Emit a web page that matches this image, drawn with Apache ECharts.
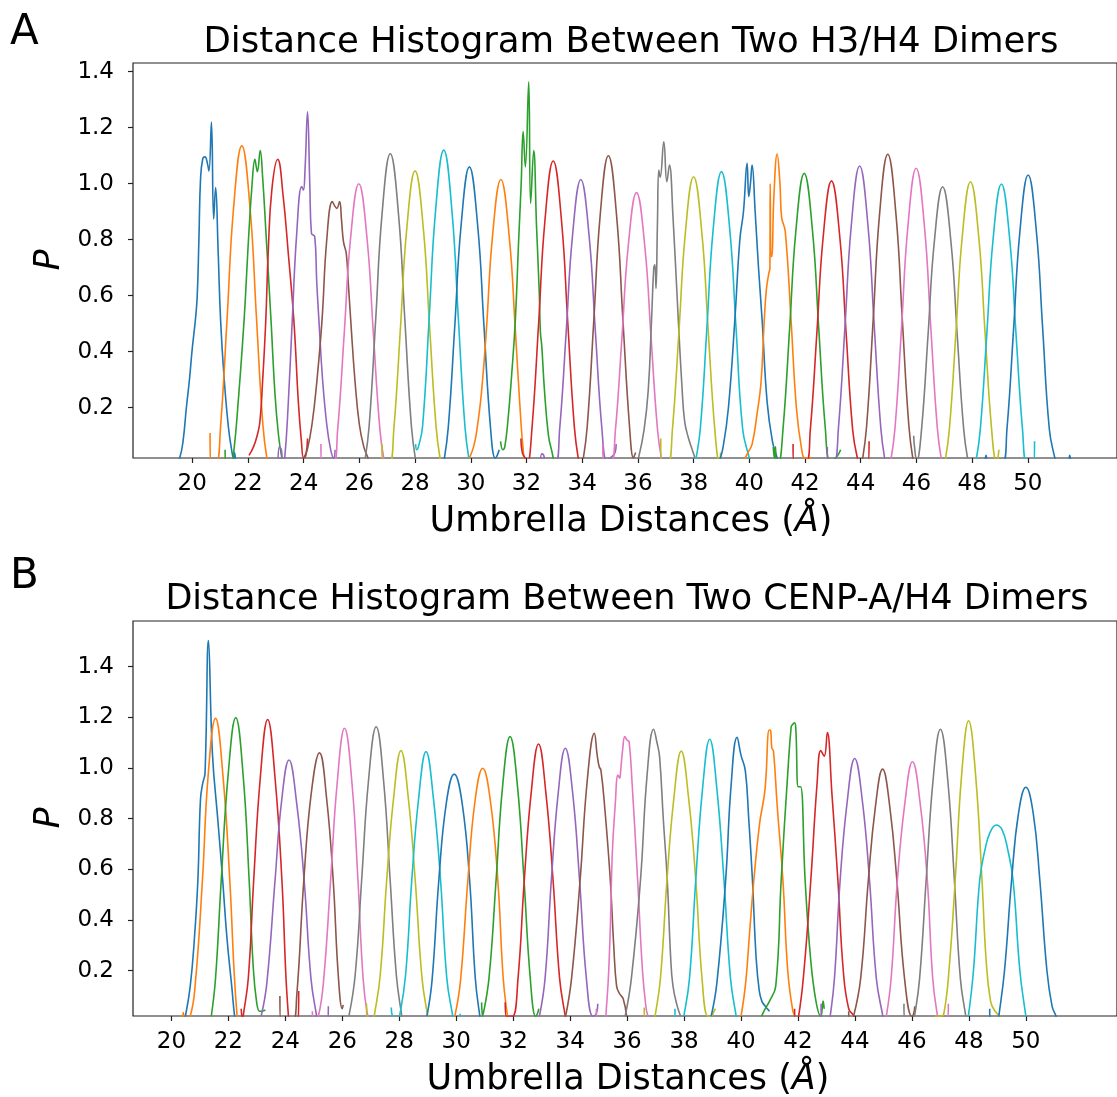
<!DOCTYPE html>
<html>
<head>
<meta charset="utf-8">
<script src="https://cdn.jsdelivr.net/npm/echarts@6/dist/echarts.min.js"></script>
<style>html,body{margin:0;padding:0;background:#fff}#chart{width:1117px;height:1097px}</style>
</head>
<body>
<div id="chart"></div>
<script>
// ---------- data ----------
const titleA = 'Distance Histogram Between Two H3/H4 Dimers';
const titleB = 'Distance Histogram Between Two CENP-A/H4 Dimers';
const xTicks = [20,22,24,26,28,30,32,34,36,38,40,42,44,46,48,50];
const yTicks = [0.2,0.4,0.6,0.8,1.0,1.2,1.4];
const palette = ['#1f77b4','#ff7f0e','#2ca02c','#d62728','#9467bd','#8c564b','#e377c2','#7f7f7f','#bcbd22','#17becf'];

// Panel A: one histogram curve per umbrella window, [distance, P]
const A01 = [[19.42,0],[19.55,0.02],[19.67,0.08],[19.79,0.2],[19.9,0.3],[20.0,0.41],[20.12,0.52],[20.18,0.6],[20.24,0.8],[20.3,1.02],[20.38,1.09],[20.46,1.096],[20.55,1.07],[20.6,1.046],[20.69,1.22],[20.77,0.874],[20.84,0.986],[20.93,0.76],[21.02,0.51],[21.15,0.3],[21.3,0.13],[21.43,0.04],[21.48,0.02],[21.52,0.04],[21.56,0]];
const A02 = [[20.64,0.11],[20.66,0],[20.85,0],[21.02,0.136],[21.26,0.533],[21.48,0.908],[21.78,1.135],[22.08,0.908],[22.3,0.533],[22.54,0.136],[22.71,0]];
const A03 = [[21.18,0.05],[21.22,0],[21.4,0],[21.5,0.05],[21.65,0.22],[21.86,0.51],[22.02,0.8],[22.15,1.0],[22.25,1.087],[22.3,1.06],[22.34,1.043],[22.44,1.118],[22.53,1.02],[22.65,0.82],[22.83,0.51],[22.97,0.25],[23.1,0.1],[23.22,0.02],[23.3,0]];
const A04 = [[22.04,0.03],[22.2,0.06],[22.33,0.1],[22.43,0.15],[22.53,0.3],[22.64,0.51],[22.73,0.76],[22.86,0.98],[23.07,1.087],[23.27,0.95],[23.45,0.75],[23.65,0.51],[23.81,0.22],[23.92,0.08],[24.0,0.02],[24.08,0.03],[24.14,0.09]];
const A05 = [[23.08,0],[23.13,0.06],[23.2,0.05],[23.25,0],[23.32,0.02],[23.44,0.2],[23.59,0.51],[23.75,0.82],[23.93,0.99],[23.99,0.977],[24.05,1.05],[24.14,1.257],[24.22,1.0],[24.28,0.823],[24.4,0.81],[24.47,0.65],[24.55,0.51],[24.68,0.3],[24.83,0.14],[24.97,0.05],[25.08,0.02],[25.13,0.05]];
const A06 = [[24.0,0.02],[24.13,0.05],[24.3,0.14],[24.48,0.3],[24.66,0.513],[24.83,0.8],[25.03,0.936],[25.12,0.92],[25.19,0.912],[25.29,0.936],[25.36,0.87],[25.43,0.793],[25.53,0.751],[25.6,0.65],[25.69,0.513],[25.84,0.3],[26.0,0.14],[26.16,0.06],[26.31,0.02],[26.36,0]];
const A07 = [[24.62,0.07],[24.66,0],[25.05,0],[25.22,0.12],[25.46,0.47],[25.68,0.8],[25.98,1.0],[26.28,0.8],[26.5,0.47],[26.74,0.12],[26.91,0]];
const A08 = [[26.18,0],[26.35,0.133],[26.59,0.52],[26.81,0.886],[27.11,1.107],[27.41,0.886],[27.63,0.52],[27.87,0.133],[28.04,0]];
const A09 = [[26.81,0.07],[26.84,0],[27.07,0],[27.24,0.126],[27.48,0.492],[27.7,0.837],[28.0,1.046],[28.3,0.837],[28.52,0.492],[28.76,0.126],[28.93,0]];
const A10 = [[28.02,0.07],[28.06,0.05],[28.12,0.06],[28.27,0.134],[28.51,0.526],[28.73,0.896],[29.03,1.12],[29.33,0.896],[29.55,0.526],[29.79,0.134],[29.96,0]];
const A11 = [[29.02,0],[29.19,0.127],[29.43,0.498],[29.65,0.848],[29.95,1.06],[30.25,0.848],[30.47,0.498],[30.71,0.127],[30.88,0.02],[30.95,0.03],[31.02,0.05]];
const A12 = [[29.95,0.02],[30.1,0.06],[30.21,0.114],[30.38,0.25],[30.56,0.477],[30.78,0.812],[31.08,1.015],[31.38,0.812],[31.6,0.477],[31.8,0.15],[31.9,0.03],[31.95,0]];
const A13 = [[31.07,0.08],[31.15,0.05],[31.22,0.06],[31.33,0.15],[31.47,0.32],[31.6,0.513],[31.72,0.8],[31.81,1.0],[31.88,1.186],[31.96,1.06],[32.08,1.364],[32.15,0.93],[32.26,1.118],[32.36,0.85],[32.46,0.608],[32.5,0.47],[32.55,0.42],[32.64,0.27],[32.79,0.1],[32.92,0.04],[33.0,0]];
const A14 = [[31.8,0.09],[31.85,0.04],[31.95,0.02],[32.03,0],[32.2,0.13],[32.44,0.508],[32.66,0.865],[32.96,1.081],[33.26,0.865],[33.48,0.508],[33.72,0.13],[33.89,0]];
const A15 = [[32.5,0],[32.55,0.035],[32.62,0.03],[32.7,0],[33.02,0],[33.19,0.122],[33.43,0.477],[33.65,0.812],[33.95,1.015],[34.25,0.812],[34.47,0.477],[34.71,0.122],[34.88,0.01],[35.0,0.02],[35.18,0.04],[35.22,0.07]];
const A16 = [[34.01,0],[34.18,0.132],[34.42,0.517],[34.64,0.88],[34.94,1.1],[35.24,0.88],[35.46,0.517],[35.7,0.132],[35.84,0.02],[35.88,0.03],[35.92,0.04]];
const A17 = [[34.74,0.07],[34.77,0],[35.02,0],[35.19,0.116],[35.43,0.455],[35.65,0.774],[35.95,0.968],[36.25,0.774],[36.47,0.455],[36.71,0.116],[36.88,0]];
const A18 = [[35.93,0],[36.02,0.02],[36.22,0.12],[36.37,0.26],[36.49,0.513],[36.57,0.7],[36.61,0.71],[36.65,0.626],[36.7,0.85],[36.75,1.049],[36.8,1.023],[36.93,1.15],[37.04,1.007],[37.13,1.067],[37.26,0.882],[37.45,0.513],[37.58,0.28],[37.68,0.15],[37.82,0.09],[37.95,0.05],[38.05,0.02]];
const A19 = [[36.82,0.09],[36.85,0],[37.07,0],[37.24,0.123],[37.48,0.482],[37.7,0.82],[38.0,1.025],[38.3,0.82],[38.52,0.482],[38.76,0.123],[38.93,0],[38.97,0.04]];
const A20 = [[38.0,0.02],[38.05,0],[38.07,0],[38.24,0.125],[38.48,0.49],[38.7,0.834],[39.0,1.043],[39.3,0.834],[39.52,0.49],[39.76,0.125],[40.0,0.02],[40.08,0]];
const A21 = [[38.9,0],[39.06,0.06],[39.25,0.2],[39.48,0.513],[39.66,0.8],[39.79,0.9],[39.92,1.073],[39.98,0.954],[40.04,1.0],[40.1,1.067],[40.21,0.9],[40.33,0.7],[40.46,0.513],[40.64,0.22],[40.83,0.08],[41.0,0.02],[41.05,0]];
const A22 = [[39.75,0],[39.95,0.04],[40.1,0.07],[40.28,0.18],[40.42,0.29],[40.53,0.5],[40.61,0.62],[40.7,0.68],[40.74,0.7],[40.75,1.0],[40.78,0.74],[40.81,0.74],[40.88,0.95],[41.0,1.106],[41.1,1.0],[41.16,0.88],[41.29,0.83],[41.5,0.51],[41.69,0.2],[41.88,0.05],[42.0,0.02],[42.2,0.02],[42.25,0]];
const A23 = [[40.86,0.06],[40.9,0.02],[40.94,0.06],[40.97,0],[41.04,0],[41.21,0.124],[41.45,0.487],[41.67,0.83],[41.97,1.037],[42.27,0.83],[42.49,0.487],[42.73,0.124],[42.9,0.01],[43.1,0.02],[43.28,0.05]];
const A24 = [[41.57,0.07],[41.6,0],[42.02,0],[42.19,0.121],[42.43,0.475],[42.65,0.808],[42.95,1.01],[43.25,0.808],[43.47,0.475],[43.71,0.121],[43.88,0.02],[43.99,0],[44.25,0],[44.3,0.08]];
const A25 = [[42.8,0.06],[42.83,0],[43.03,0],[43.2,0.128],[43.44,0.5],[43.66,0.85],[43.96,1.063],[44.26,0.85],[44.48,0.5],[44.72,0.128],[44.89,0]];
const A26 = [[44.04,0],[44.21,0.133],[44.45,0.519],[44.67,0.884],[44.97,1.105],[45.27,0.884],[45.49,0.519],[45.73,0.133],[45.9,0]];
const A27 = [[45.06,0],[45.23,0.127],[45.47,0.496],[45.69,0.844],[45.99,1.055],[46.29,0.844],[46.51,0.496],[46.75,0.127],[46.92,0]];
const A28 = [[45.9,0.1],[45.94,0.05],[46.01,0.01],[46.18,0.119],[46.42,0.465],[46.64,0.791],[46.94,0.989],[47.24,0.791],[47.46,0.465],[47.7,0.119],[47.87,0]];
const A29 = [[47.01,0],[47.18,0.121],[47.42,0.473],[47.64,0.806],[47.94,1.007],[48.24,0.806],[48.46,0.473],[48.7,0.121],[48.87,0.01],[48.92,0.02],[48.96,0.05]];
const A30 = [[48.12,0],[48.29,0.12],[48.53,0.47],[48.75,0.8],[49.05,0.999],[49.35,0.8],[49.57,0.47],[49.81,0.12],[49.98,0],[50.2,0],[50.24,0.08]];
const A31 = [[48.45,0],[48.5,0.03],[48.55,0],[49.08,0],[49.25,0.124],[49.49,0.485],[49.71,0.825],[50.01,1.031],[50.31,0.825],[50.53,0.485],[50.77,0.124],[50.97,0.02],[51.05,0],[51.45,0],[51.5,0.03],[51.55,0]];

// Panel B
const B01 = [[20.42,0],[20.49,0.02],[20.66,0.137],[20.81,0.33],[20.93,0.558],[21.02,0.874],[21.1,0.94],[21.18,0.979],[21.3,1.503],[21.44,1.058],[21.63,0.795],[21.8,0.558],[21.95,0.33],[22.12,0.137],[22.22,0.02],[22.27,0]];
const B02 = [[20.38,0],[20.42,0.035],[20.46,0],[20.66,0.02],[20.84,0.15],[21.09,0.558],[21.29,0.97],[21.55,1.196],[21.81,0.97],[22.05,0.558],[22.2,0.2],[22.3,0.03],[22.34,0]];
const B03 = [[21.4,0.02],[21.55,0.17],[21.75,0.558],[21.99,0.97],[22.26,1.199],[22.52,0.97],[22.73,0.558],[22.87,0.22],[22.99,0.078],[23.1,0.04],[23.19,0.04],[23.3,0.045]];
const B04 = [[22.45,0.05],[22.5,0],[22.52,0.02],[22.7,0.17],[22.89,0.558],[23.12,0.96],[23.38,1.192],[23.64,0.96],[23.88,0.558],[24.02,0.18],[24.11,0.02],[24.14,0],[24.45,0],[24.47,0.12]];
const B05 = [[23.15,0.02],[23.35,0.15],[23.64,0.558],[23.86,0.86],[24.13,1.032],[24.4,0.86],[24.66,0.558],[24.9,0.17],[25.1,0.02],[25.14,0],[25.48,0],[25.51,0.06]];
const B06 = [[23.81,0.1],[23.84,0],[24.25,0],[24.4,0.1],[24.65,0.558],[24.91,0.9],[25.2,1.06],[25.45,0.88],[25.68,0.558],[25.86,0.18],[26.0,0.05],[26.03,0.065]];
const B07 = [[24.95,0.04],[25.0,0],[25.16,0.02],[25.35,0.17],[25.59,0.558],[25.82,0.94],[26.08,1.157],[26.34,0.94],[26.55,0.558],[26.73,0.17],[26.88,0.03],[27.0,0]];
const B08 = [[26.23,0.02],[26.45,0.18],[26.68,0.558],[26.92,0.95],[27.19,1.163],[27.45,0.95],[27.68,0.558],[27.9,0.18],[28.09,0.02],[28.12,0]];
const B09 = [[26.85,0.07],[26.88,0],[27.08,0],[27.12,0.02],[27.33,0.18],[27.56,0.558],[27.8,0.88],[28.06,1.069],[28.32,0.88],[28.56,0.558],[28.8,0.17],[29.0,0.02],[29.04,0]];
const B10 = [[27.72,0.055],[27.76,0.02],[27.92,0],[28.01,0.02],[28.22,0.18],[28.44,0.558],[28.68,0.88],[28.94,1.065],[29.2,0.88],[29.45,0.558],[29.67,0.17],[29.88,0.02],[29.92,0],[30.1,0],[30.14,0.03]];
const B11 = [[28.97,0.02],[29.15,0.16],[29.39,0.558],[29.65,0.86],[29.93,0.976],[30.21,0.86],[30.47,0.558],[30.67,0.17],[30.83,0.02],[30.87,0]];
const B12 = [[29.95,0.02],[30.15,0.16],[30.41,0.558],[30.66,0.87],[30.93,0.999],[31.2,0.87],[31.46,0.558],[31.65,0.17],[31.8,0.02],[31.84,0]];
const B13 = [[30.89,0.075],[30.93,0.02],[30.95,0.02],[31.15,0.17],[31.4,0.558],[31.63,0.93],[31.89,1.124],[32.15,0.93],[32.38,0.558],[32.6,0.17],[32.79,0.02],[32.85,0.03],[32.9,0.05]];
const B14 = [[31.72,0.075],[31.76,0.02],[31.97,0.02],[32.17,0.17],[32.39,0.558],[32.63,0.9],[32.89,1.095],[33.15,0.9],[33.4,0.558],[33.63,0.17],[33.83,0.02],[33.87,0]];
const B15 = [[32.92,0.02],[33.12,0.17],[33.34,0.558],[33.58,0.9],[33.83,1.078],[34.09,0.9],[34.33,0.558],[34.57,0.17],[34.8,0.02],[34.92,0.03],[34.97,0.07]];
const B16 = [[33.84,0.02],[34.05,0.17],[34.35,0.558],[34.6,0.95],[34.85,1.137],[34.95,1.05],[35.02,1.005],[35.08,0.992],[35.21,0.85],[35.41,0.558],[35.53,0.3],[35.63,0.14],[35.73,0.11],[35.86,0.09],[35.98,0.02]];
const B17 = [[34.92,0.05],[34.95,0],[35.17,0],[35.27,0.05],[35.39,0.3],[35.48,0.663],[35.58,0.85],[35.68,0.972],[35.74,0.96],[35.77,0.986],[35.85,1.08],[35.92,1.124],[36.0,1.11],[36.07,1.104],[36.17,0.95],[36.37,0.558],[36.54,0.2],[36.67,0.05],[36.73,0.02],[36.76,0]];
const B18 = [[35.93,0.02],[36.15,0.17],[36.47,0.558],[36.7,0.97],[36.93,1.153],[37.05,1.1],[37.14,1.045],[37.27,0.8],[37.41,0.558],[37.53,0.25],[37.61,0.14],[37.76,0.06],[37.88,0.02]];
const B19 = [[36.6,0.055],[36.64,0],[36.93,0],[36.98,0.02],[37.17,0.17],[37.4,0.558],[37.64,0.88],[37.9,1.067],[38.16,0.88],[38.41,0.558],[38.63,0.17],[38.84,0.02],[38.95,0.02],[39.05,0.04],[39.1,0.05]];
const B20 = [[37.68,0.05],[37.72,0],[37.93,0],[37.99,0.02],[38.19,0.17],[38.41,0.558],[38.65,0.92],[38.9,1.114],[39.15,0.92],[39.4,0.558],[39.63,0.17],[39.83,0.02],[39.87,0]];
const B21 = [[38.95,0.02],[39.15,0.15],[39.46,0.558],[39.65,0.93],[39.86,1.121],[40.0,1.05],[40.15,0.99],[40.27,0.8],[40.4,0.558],[40.53,0.25],[40.64,0.12],[40.73,0.08],[40.85,0.06],[41.0,0.04]];
const B22 = [[40.0,0.02],[40.16,0.15],[40.3,0.35],[40.45,0.558],[40.65,0.78],[40.84,0.913],[40.99,1.15],[41.04,1.148],[41.08,1.08],[41.14,1.066],[41.27,0.85],[41.47,0.558],[41.64,0.2],[41.82,0.04],[41.9,0.02],[41.93,0]];
const B23 = [[40.72,0.02],[40.85,0.05],[41.0,0.08],[41.22,0.14],[41.41,0.558],[41.64,0.979],[41.76,1.163],[41.8,1.17],[41.87,1.179],[41.92,1.163],[42.01,0.926],[42.09,0.926],[42.25,0.558],[42.44,0.25],[42.63,0.08],[42.8,0.02],[42.85,0.05],[42.88,0.08],[42.92,0.05]];
const B24 = [[41.88,0.05],[41.92,0],[42.02,0.02],[42.21,0.2],[42.45,0.558],[42.67,0.94],[42.8,1.069],[42.92,1.047],[43.03,1.14],[43.19,0.9],[43.4,0.558],[43.59,0.2],[43.78,0.05],[43.97,0.02],[44.0,0]];
const B25 = [[42.81,0.07],[42.84,0],[43.08,0],[43.13,0.02],[43.28,0.17],[43.48,0.558],[43.73,0.87],[43.99,1.038],[44.26,0.87],[44.51,0.558],[44.75,0.17],[44.98,0.02],[45.02,0]];
const B26 = [[43.78,0.04],[43.82,0],[43.95,0.02],[44.2,0.17],[44.47,0.558],[44.71,0.84],[44.97,0.996],[45.23,0.84],[45.47,0.558],[45.74,0.17],[46.0,0.02],[46.06,0.03],[46.1,0.06]];
const B27 = [[45.1,0.02],[45.27,0.17],[45.49,0.558],[45.75,0.86],[46.02,1.025],[46.29,0.86],[46.54,0.558],[46.73,0.17],[46.9,0.02],[46.97,0],[47.22,0],[47.28,0.07]];
const B28 = [[45.72,0.07],[45.76,0],[46.03,0],[46.09,0.02],[46.27,0.17],[46.5,0.558],[46.74,0.95],[47.0,1.153],[47.26,0.95],[47.49,0.558],[47.7,0.17],[47.89,0.02],[47.92,0]];
const B29 = [[46.8,0.02],[47.0,0.02],[47.12,0.03],[47.3,0.2],[47.52,0.558],[47.75,0.98],[47.99,1.187],[48.23,0.98],[48.46,0.558],[48.6,0.25],[48.76,0.08],[48.92,0.04],[49.1,0.02]];
const B30 = [[47.98,0.02],[48.16,0.2],[48.38,0.558],[48.57,0.68],[48.74,0.745],[48.96,0.775],[49.17,0.755],[49.36,0.68],[49.55,0.558],[49.79,0.2],[50.0,0.02],[50.03,0]];
const B31 = [[48.73,0.05],[48.76,0],[49.02,0],[49.05,0.02],[49.25,0.2],[49.5,0.558],[49.74,0.82],[50.0,0.924],[50.26,0.82],[50.49,0.558],[50.74,0.2],[50.92,0.06],[51.06,0.02],[51.1,0]];

const panelA = [A01,A02,A03,A04,A05,A06,A07,A08,A09,A10,A11,A12,A13,A14,A15,A16,A17,A18,A19,A20,A21,A22,A23,A24,A25,A26,A27,A28,A29,A30,A31];
const panelB = [B01,B02,B03,B04,B05,B06,B07,B08,B09,B10,B11,B12,B13,B14,B15,B16,B17,B18,B19,B20,B21,B22,B23,B24,B25,B26,B27,B28,B29,B30,B31];

// ---------- chart ----------
const FONT = 'DejaVu Sans';
const chart = echarts.init(document.getElementById('chart'), null, {renderer: 'canvas'});

function makeX(gi, min, max) {
  return {
    gridIndex: gi, type: 'value', min: min, max: max,
    axisLine: {show: false}, splitLine: {show: false},
    axisTick: {show: true, length: 5, customValues: xTicks, lineStyle: {color: '#222', width: 1.2}},
    axisLabel: {customValues: xTicks, fontSize: 23, color: '#000', fontFamily: FONT, margin: 15,
      formatter: v => String(Math.round(v))}
  };
}
function makeY(gi, min, max) {
  return {
    gridIndex: gi, type: 'value', min: min, max: max,
    axisLine: {show: false}, splitLine: {show: false},
    axisTick: {show: true, length: 5, customValues: yTicks, lineStyle: {color: '#222', width: 1.2}},
    axisLabel: {customValues: yTicks, fontSize: 23, color: '#000', fontFamily: FONT, margin: 19,
      formatter: v => v.toFixed(1)}
  };
}

const series = [];
function addSeries(list, axisIdx) {
  list.forEach((d, i) => series.push({
    type: 'line', xAxisIndex: axisIdx, yAxisIndex: axisIdx, data: d, showSymbol: false, symbol: 'none',
    smooth: 0.45, clip: true, silent: true,
    lineStyle: {width: 1.6, color: palette[i % 10]}, itemStyle: {color: palette[i % 10]}
  }));
}
addSeries(panelA, 0);
addSeries(panelB, 1);

function txt(x, y, text, size, opts) {
  return Object.assign({
    type: 'text', x: x, y: y, silent: true,
    style: Object.assign({text: text, fontSize: size, fontFamily: FONT, fill: '#000',
      textAlign: 'center', textVerticalAlign: 'middle'}, (opts && opts.style) || {})
  }, opts && opts.el || {});
}
const xlabelRich = {i: {fontStyle: 'italic', fontSize: 35, fontFamily: FONT, fill: '#000'}};

chart.setOption({
  backgroundColor: '#fff',
  animation: false,
  grid: [
    {left: 133, top: 63, width: 992, height: 395, show: true, borderColor: '#222', borderWidth: 1.2},
    {left: 133, top: 621, width: 992, height: 395, show: true, borderColor: '#222', borderWidth: 1.2}
  ],
  xAxis: [makeX(0, 17.874, 53.2), makeX(1, 18.652, 53.2)],
  yAxis: [makeY(0, 0.0204, 1.4311), makeY(1, 0.0212, 1.5806)],
  series: series,
  graphic: [
    txt(10, 33, 'A', 42, {style: {textAlign: 'left'}}),
    txt(10, 577, 'B', 42, {style: {textAlign: 'left'}}),
    txt(631, 43, titleA, 35.5),
    txt(627, 600, titleB, 35),
    txt(631, 522, 'Umbrella Distances ({i|Å})', 35, {style: {rich: xlabelRich}}),
    txt(628, 1080, 'Umbrella Distances ({i|Å})', 35, {style: {rich: xlabelRich}}),
    txt(50, 260, 'P', 35, {style: {fontStyle: 'italic'}, el: {rotation: Math.PI / 2}}),
    txt(50, 818, 'P', 35, {style: {fontStyle: 'italic'}, el: {rotation: Math.PI / 2}})
  ]
});
</script>
</body>
</html>
